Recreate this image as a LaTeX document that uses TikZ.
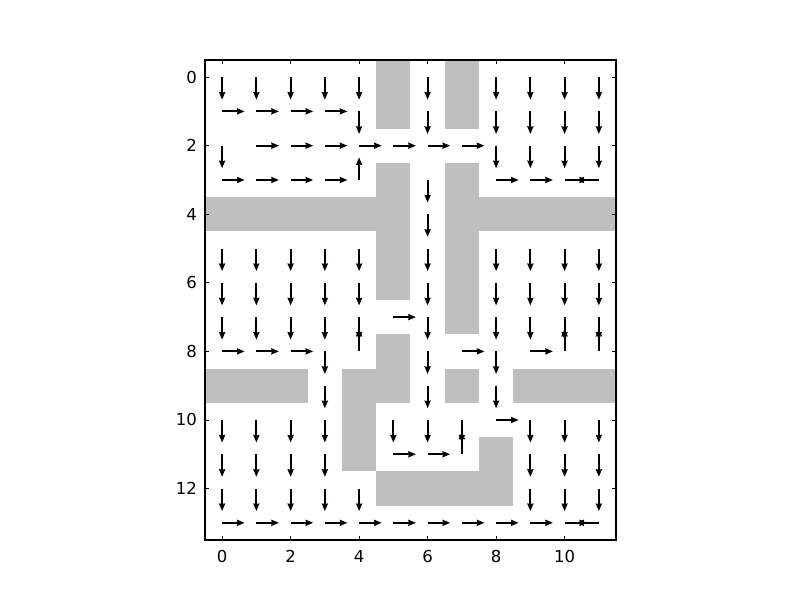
\documentclass[tikz,border=0pt]{standalone}
\usepackage{fontspec}
\setmainfont{DejaVu Sans}
\usetikzlibrary{arrows.meta}
\definecolor{wall}{RGB}{191,191,191}
\tikzset{
  arr/.style={line width=2pt, -{Stealth[length=7.6pt,width=6pt,inset=0.5pt]}},
  wallbox/.style={fill=wall, draw=none},
  tickmark/.style={line width=0.9pt},
  ticklabel/.style={inner sep=0pt, font=\fontsize{16.5}{20}\selectfont}
}
\begin{document}
\begin{tikzpicture}[x=34.25pt, y=-34.286pt]
\useasboundingbox (-6.485,-2.249) rectangle (16.873,15.251);
% walls
\foreach \a/\b/\c/\d in {4.5/-0.5/5.5/1.5, 6.5/-0.5/7.5/1.5, -0.5/3.5/4.5/4.5, 4.5/2.5/5.5/6.5,
  6.5/2.5/7.5/7.5, 7.5/3.5/11.5/4.5, 4.5/7.5/5.5/9.5, 3.5/8.5/4.5/11.5, -0.5/8.5/2.5/9.5,
  6.5/8.5/7.5/9.5, 8.5/8.5/11.5/9.5, 4.5/11.5/8.5/12.5, 7.5/10.5/8.5/11.5}
  \fill[wallbox] (\a,\b) rectangle (\c,\d);
% down arrows
\foreach \x/\y in {0/0,1/0,2/0,3/0,4/0,6/0,8/0,9/0,10/0,11/0,
  4/1,6/1,8/1,9/1,10/1,11/1,
  0/2,8/2,9/2,10/2,11/2,
  6/3,6/4,
  0/5,1/5,2/5,3/5,4/5,6/5,8/5,9/5,10/5,11/5,
  0/6,1/6,2/6,3/6,4/6,6/6,8/6,9/6,10/6,11/6,
  0/7,1/7,2/7,3/7,4/7,6/7,8/7,9/7,10/7,11/7,
  3/8,6/8,8/8,
  3/9,6/9,8/9,
  0/10,1/10,2/10,3/10,5/10,6/10,7/10,9/10,10/10,11/10,
  0/11,1/11,2/11,3/11,9/11,10/11,11/11,
  0/12,1/12,2/12,3/12,4/12,9/12,10/12,11/12}
  \draw[arr] (\x,\y) -- ++(0,0.66);
% right arrows
\foreach \x/\y in {0/1,1/1,2/1,3/1,
  1/2,2/2,3/2,4/2,5/2,6/2,7/2,
  0/3,1/3,2/3,3/3,8/3,9/3,10/3,
  5/7,
  0/8,1/8,2/8,7/8,9/8,
  8/10,
  5/11,6/11,
  0/13,1/13,2/13,3/13,4/13,5/13,6/13,7/13,8/13,9/13,10/13}
  \draw[arr] (\x,\y) -- ++(0.66,0);
% up arrows
\foreach \x/\y in {4/3,4/8,10/8,11/8,7/11}
  \draw[arr] (\x,\y) -- ++(0,-0.66);
% left arrows
\foreach \x/\y in {11/3,11/13}
  \draw[arr] (\x,\y) -- ++(-0.66,0);
% frame
\draw[line width=1.3pt] (-0.5,-0.5) rectangle (11.5,13.5);
% ticks
\foreach \t in {0,2,...,10} {
  \draw[tickmark] (\t,13.5) -- ++(0,-0.13);
  \draw[tickmark] (\t,-0.5) -- ++(0,0.13);
  \node[ticklabel, anchor=north] (xl\t) at ([yshift=-10pt]\t,13.5) {\t};
}
\foreach \t in {0,2,...,12} {
  \draw[tickmark] (-0.5,\t) -- ++(0.13,0);
  \draw[tickmark] (11.5,\t) -- ++(-0.13,0);
  \node[ticklabel, anchor=east] (yl\t) at ([xshift=-8pt]-0.5,\t) {\t};
}
\end{tikzpicture}
\end{document}
